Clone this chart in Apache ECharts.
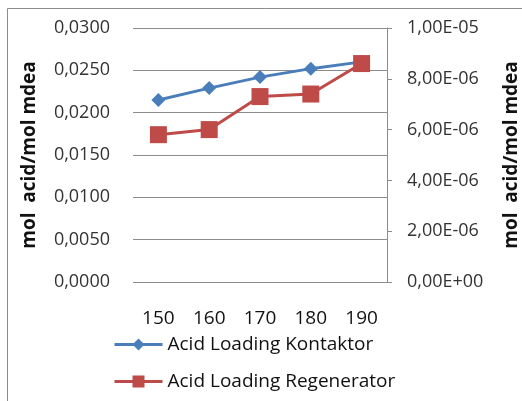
<!DOCTYPE html>
<html><head><meta charset="utf-8">
<script src="https://cdn.jsdelivr.net/npm/echarts@6/dist/echarts.min.js"></script>
<style>html,body{margin:0;padding:0;background:#fff}#c{width:522px;height:401px}</style>
</head><body><div id="c"></div>
<script>
const categories = ['150','160','170','180','190'];
const kontaktor = [0.0215, 0.0229, 0.0242, 0.0252, 0.0260];
const regenerator = [5.8e-6, 6.0e-6, 7.3e-6, 7.4e-6, 8.6e-6];
const seriesNames = ['Acid Loading Kontaktor', 'Acid Loading Regenerator'];
const axisName = 'mol  acid/mol mdea';

const font = 'Open Sans, Noto Sans, sans-serif';
function fmtLeft(v){ return v.toFixed(4).replace('.', ','); }
function fmtRight(v){
  if (v === 0) return '0,00E+00';
  const s = v.toExponential(2);
  const [m, e] = s.split('e');
  const ei = parseInt(e, 10);
  const es = (ei < 0 ? '-' : '+') + String(Math.abs(ei)).padStart(2, '0');
  return m.replace('.', ',') + 'E' + es;
}
const chart = echarts.init(document.getElementById('c'));
chart.setOption({
  animation: false,
  backgroundColor: '#fff',
  graphic: [{type:'rect', shape:{x:7.5,y:8.5,width:600,height:500}, style:{fill:'none', stroke:'#8c8c8c', lineWidth:1}, z:-1}],
  grid: {left:133, right:134, top:28, bottom:119},
  legend: {
    orient:'vertical', left:108, top:330, itemGap:18, itemWidth:48, itemHeight:15,
    lineStyle:{width:3},
    textStyle:{fontFamily:font, fontSize:19, color:'#111'},
    data: seriesNames
  },
  xAxis: {
    type:'category', data: categories, boundaryGap:true,
    axisLine:{show:false}, axisTick:{show:false},
    axisLabel:{margin:27, fontFamily:font, fontSize:19, color:'#111'}
  },
  yAxis: [{
    type:'value', min:0, max:0.03, interval:0.005,
    name: axisName, nameLocation:'middle', nameRotate:90, nameGap:94,
    nameTextStyle:{fontFamily:font, fontSize:19, fontWeight:'bold', color:'#111'},
    axisLine:{show:false}, axisTick:{show:false},
    axisLabel:{margin:23, formatter:fmtLeft, fontFamily:font, fontSize:18, color:'#333'},
    splitLine:{lineStyle:{color:'#8c8c8c', width:1}}
  },{
    type:'value', min:0, max:1e-5, interval:2e-6, position:'right',
    name: axisName, nameLocation:'middle', nameRotate:90, nameGap:115,
    nameTextStyle:{fontFamily:font, fontSize:19, fontWeight:'bold', color:'#111'},
    axisLine:{show:true, lineStyle:{color:'#8c8c8c'}},
    axisTick:{show:true, length:5, lineStyle:{color:'#8c8c8c'}},
    axisLabel:{margin:20, formatter:fmtRight, fontFamily:font, fontSize:18, color:'#333'},
    splitLine:{show:false}
  }],
  series: [{
    name: seriesNames[0], type:'line', yAxisIndex:0, data:kontaktor,
    symbol:'diamond', symbolSize:14,
    itemStyle:{color:'#4a7ebb'}, lineStyle:{color:'#4a7ebb', width:3}
  },{
    name: seriesNames[1], type:'line', yAxisIndex:1, data:regenerator,
    symbol:'rect', symbolSize:17,
    itemStyle:{color:'#be4b48'}, lineStyle:{color:'#be4b48', width:3}
  }]
});
</script></body></html>
